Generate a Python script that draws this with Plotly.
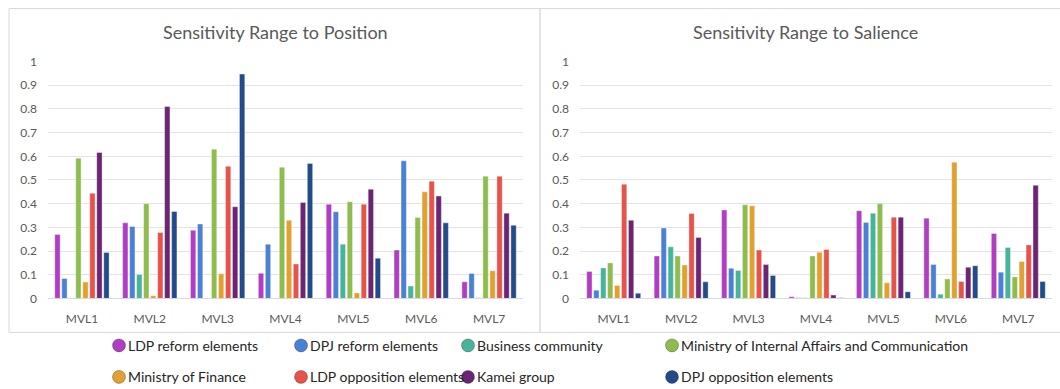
import plotly.graph_objects as go

W, H = 1060, 389

categories = ["MVL1", "MVL2", "MVL3", "MVL4", "MVL5", "MVL6", "MVL7"]

series_names = [
    "LDP reform elements",
    "DPJ reform elements",
    "Business community",
    "Ministry of Internal Affairs and Communication",
    "Ministry of Finance",
    "LDP opposition elements",
    "Kamei group",
    "DPJ opposition elements",
]

colors = ["#B03EC2", "#4A80D6", "#46B39A", "#8FBC4E", "#E0A032", "#E5534A", "#6B2572", "#244B89"]

# Sensitivity Range to Position (per series, MVL1..MVL7)
pos_ldp_reform = [0.27, 0.319, 0.288, 0.106, 0.398, 0.204, 0.070]
pos_dpj_reform = [0.084, 0.304, 0.314, 0.229, 0.366, 0.581, 0.105]
pos_business = [0.0, 0.101, 0.0, 0.0, 0.229, 0.052, 0.003]
pos_miac = [0.592, 0.400, 0.630, 0.554, 0.408, 0.342, 0.516]
pos_mof = [0.069, 0.011, 0.104, 0.330, 0.023, 0.450, 0.117]
pos_ldp_opp = [0.444, 0.278, 0.558, 0.145, 0.398, 0.495, 0.516]
pos_kamei = [0.616, 0.810, 0.387, 0.405, 0.461, 0.432, 0.360]
pos_dpj_opp = [0.194, 0.367, 0.947, 0.570, 0.170, 0.319, 0.309]

# Sensitivity Range to Salience
sal_ldp_reform = [0.114, 0.179, 0.373, 0.007, 0.370, 0.339, 0.274]
sal_dpj_reform = [0.035, 0.297, 0.127, 0.003, 0.321, 0.143, 0.111]
sal_business = [0.129, 0.218, 0.118, 0.003, 0.360, 0.018, 0.215]
sal_miac = [0.150, 0.179, 0.395, 0.179, 0.400, 0.082, 0.091]
sal_mof = [0.055, 0.141, 0.391, 0.195, 0.066, 0.575, 0.156]
sal_ldp_opp = [0.482, 0.359, 0.204, 0.207, 0.343, 0.072, 0.226]
sal_kamei = [0.330, 0.257, 0.143, 0.014, 0.343, 0.132, 0.478]
sal_dpj_opp = [0.022, 0.070, 0.097, 0.003, 0.028, 0.138, 0.072]

pos_series = [pos_ldp_reform, pos_dpj_reform, pos_business, pos_miac,
              pos_mof, pos_ldp_opp, pos_kamei, pos_dpj_opp]
sal_series = [sal_ldp_reform, sal_dpj_reform, sal_business, sal_miac,
              sal_mof, sal_ldp_opp, sal_kamei, sal_dpj_opp]

y_ticks = [0, 0.1, 0.2, 0.3, 0.4, 0.5, 0.6, 0.7, 0.8, 0.9, 1]
y_ticktext = ["0", "0.1", "0.2", "0.3", "0.4", "0.5", "0.6", "0.7", "0.8", "0.9", "1"]

titles = ["Sensitivity Range to Position", "Sensitivity Range to Salience"]

FONT = "Lato"
GRAY = "#595959"

fig = go.Figure()
for i, name in enumerate(series_names):
    fig.add_trace(go.Bar(x=categories, y=pos_series[i], name=name, marker_color=colors[i],
                         marker_line=dict(color="rgba(255,255,255,0.6)", width=0.6),
                         xaxis="x", yaxis="y", showlegend=False))
for i, name in enumerate(series_names):
    fig.add_trace(go.Bar(x=categories, y=sal_series[i], name=name, marker_color=colors[i],
                         marker_line=dict(color="rgba(255,255,255,0.6)", width=0.6),
                         xaxis="x2", yaxis="y2", showlegend=False))

# vertical calibration (observed = Y_OFF + Y_SCALE * design)
Y_OFF, Y_SCALE = 8.4, 0.962

def px(x):
    return x / W

def py(y):
    yd = (y - Y_OFF) / Y_SCALE
    yd = min(max(yd, 0.5), H - 0.5)
    return (H - yd) / H

ybot, ytop = 299, 62
axis_common = dict(range=[0, 1], tickvals=y_ticks, ticktext=y_ticktext,
                   showgrid=True, gridcolor="#E3E3E3", gridwidth=1,
                   zeroline=False, showline=False, ticks="",
                   tickfont=dict(family=FONT, size=12, color=GRAY),
                   ticklabelstandoff=10, fixedrange=True)
xaxis_common = dict(showgrid=False, showline=True, linecolor="#D9D9D9", linewidth=1,
                    ticks="", tickfont=dict(family=FONT, size=12, color=GRAY),
                    ticklabelstandoff=9, fixedrange=True)

fig.update_layout(
    width=W, height=H,
    margin=dict(l=0, r=0, t=0, b=0),
    paper_bgcolor="white", plot_bgcolor="white",
    barmode="group", bargap=0.175, bargroupgap=0.24,
    showlegend=False,
    xaxis=dict(domain=[px(48), px(523)], anchor="y", **xaxis_common),
    yaxis=dict(domain=[py(ybot), py(ytop)], anchor="x", **axis_common),
    xaxis2=dict(domain=[px(580), px(1052)], anchor="y2", **xaxis_common),
    yaxis2=dict(domain=[py(ybot), py(ytop)], anchor="x2", **axis_common),
)

shapes = []
annotations = []
# panel borders
shapes.append(dict(type="rect", xref="paper", yref="paper", x0=px(9), x1=px(540), y0=py(333), y1=py(7.5),
                   line=dict(color="#D9D9D9", width=1), fillcolor="rgba(0,0,0,0)", layer="below"))
shapes.append(dict(type="rect", xref="paper", yref="paper", x0=px(540), x1=px(1075), y0=py(333), y1=py(7.5),
                   line=dict(color="#D9D9D9", width=1), fillcolor="rgba(0,0,0,0)", layer="below"))

# titles
for t, cx in zip(titles, [275, 805]):
    annotations.append(dict(text=t, x=px(cx), y=py(32), xref="paper", yref="paper",
                            xanchor="center", yanchor="middle", showarrow=False,
                            font=dict(family=FONT, size=18, color=GRAY)))

# legend (manual, two rows)
leg_x = [119, 301, 468, 672]
leg_y = [346, 377.5]
for i, name in enumerate(series_names):
    r, c = divmod(i, 4)
    mx, my = leg_x[c], leg_y[r]
    shapes.append(dict(type="circle", xref="paper", yref="paper", xsizemode="pixel", ysizemode="pixel",
                       xanchor=px(mx), yanchor=py(my), x0=-6.5, x1=6.5, y0=-6.5, y1=6.5,
                       fillcolor=colors[i], line=dict(color="rgba(0,0,0,0.35)", width=0.8)))
    annotations.append(dict(text=name, x=px(mx + 7), y=py(my), xref="paper", yref="paper",
                            xanchor="left", yanchor="middle", showarrow=False,
                            font=dict(family=FONT, size=14, color="#262626")))

fig.update_layout(shapes=shapes, annotations=annotations)

post = (
    "document.documentElement.style.margin='0';"
    "document.documentElement.style.padding='0';"
    "document.documentElement.style.overflow='hidden';"
    "document.body.style.margin='0';"
    "document.body.style.padding='0';"
    "document.body.style.overflow='hidden';"
    "var d=document.getElementById('{plot_id}');"
    "d.style.position='fixed';d.style.top='0px';d.style.left='0px';"
)

fig.write_html("out.html", config={"displayModeBar": False}, post_script=post)
